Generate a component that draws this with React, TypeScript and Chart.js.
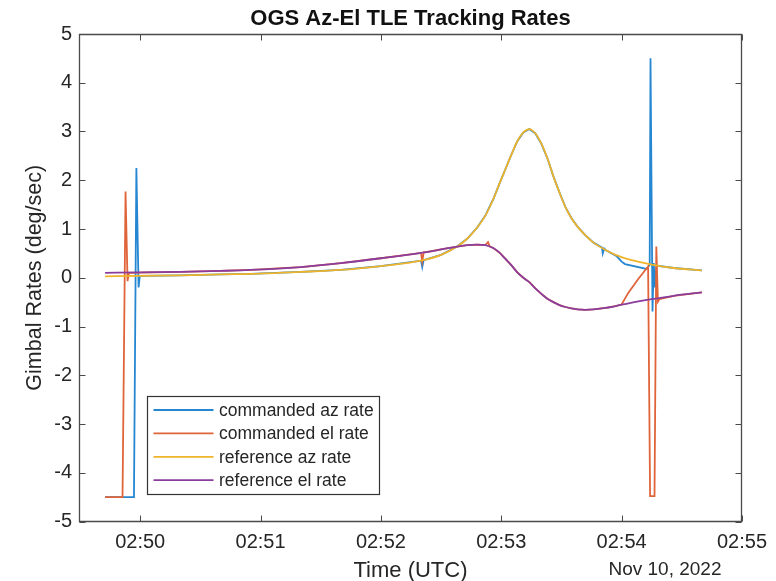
import React, { useEffect, useRef } from "react";
import { Chart, registerables } from "chart.js";

Chart.register(...registerables);

// Time axis: seconds after 02:50:00 UTC, Nov 10, 2022
const xMin = -30.5;
const xMax = 300;
const xTickSeconds = [0, 60, 120, 180, 240, 300];
const xTickLabels = ["02:50", "02:51", "02:52", "02:53", "02:54", "02:55"];
const yTickValues = [-5, -4, -3, -2, -1, 0, 1, 2, 3, 4, 5];
const dateLabel = "Nov 10, 2022";
const titleText = "OGS Az-El TLE Tracking Rates";
const xTitle = "Time (UTC)";
const yTitle = "Gimbal Rates (deg/sec)";

const seriesLabels = ["commanded az rate", "commanded el rate", "reference az rate", "reference el rate"];
const seriesColors = ["#2587d2", "#e0643a", "#efb42a", "#8a3d9c"];

// reference (TLE) rates
const refTime = [-17.5, -0.5, 20, 40, 55, 80, 100, 120, 140, 150, 158, 163, 168, 172, 176, 179, 182, 185, 188, 191, 194, 197, 200, 203, 206, 209, 212, 215, 218, 222, 226, 232, 237, 244, 255, 266, 280];
const refAzRate = [0.03, 0.04, 0.05, 0.07, 0.08, 0.12, 0.16, 0.24, 0.35, 0.47, 0.64, 0.8, 1.03, 1.27, 1.61, 1.92, 2.22, 2.52, 2.8, 2.98, 3.05, 2.96, 2.75, 2.45, 2.08, 1.75, 1.45, 1.22, 1.05, 0.87, 0.72, 0.57, 0.47, 0.37, 0.27, 0.2, 0.15];
const refElRate = [0.1, 0.11, 0.12, 0.14, 0.16, 0.22, 0.3, 0.4, 0.51, 0.58, 0.64, 0.67, 0.68, 0.67, 0.61, 0.52, 0.39, 0.26, 0.11, 0.0, -0.09, -0.22, -0.33, -0.43, -0.5, -0.56, -0.6, -0.63, -0.65, -0.66, -0.65, -0.62, -0.58, -0.52, -0.44, -0.37, -0.3];

// commanded az rate
const cmdAzTime = [-17.5, -3.1, -1.9, -0.8, -0.2, 20, 40, 55, 80, 100, 120, 140, 140.6, 141.3, 150, 158, 163, 168, 172, 176, 179, 182, 185, 188, 191, 194, 197, 200, 203, 206, 209, 212, 215, 218, 222, 226, 230.2, 230.6, 231.3, 232, 237.6, 240, 241.7, 252.4, 254, 254.4, 255.4, 256, 256.6, 257.3, 266, 280];
const cmdAzRate = [-4.5, -4.5, 2.25, -0.2, 0.04, 0.05, 0.07, 0.08, 0.12, 0.16, 0.24, 0.35, 0.22, 0.36, 0.47, 0.64, 0.8, 1.03, 1.27, 1.61, 1.92, 2.22, 2.52, 2.8, 2.98, 3.05, 2.96, 2.75, 2.45, 2.08, 1.75, 1.45, 1.22, 1.05, 0.87, 0.72, 0.62, 0.5, 0.6, 0.57, 0.44, 0.33, 0.28, 0.18, 0.27, 4.5, -0.69, 0.3, -0.2, 0.25, 0.2, 0.15];

// commanded el rate
const cmdElTime = [-17.5, -8.8, -7.3, -6.3, -5.6, 20, 40, 55, 80, 100, 120, 140, 140.6, 141.3, 150, 158, 163, 168, 172, 173.4, 174.3, 176, 179, 182, 185, 188, 191, 194, 197, 200, 203, 206, 209, 212, 215, 218, 222, 226, 232, 237, 240, 243.3, 248.2, 253.2, 254.2, 256.4, 257.3, 258.1, 258.8, 266, 280];
const cmdElRate = [-4.5, -4.5, 1.77, -0.07, 0.1, 0.12, 0.14, 0.16, 0.22, 0.3, 0.4, 0.51, 0.33, 0.515, 0.58, 0.64, 0.67, 0.68, 0.67, 0.73, 0.64, 0.61, 0.52, 0.39, 0.26, 0.11, 0.0, -0.09, -0.22, -0.33, -0.43, -0.5, -0.56, -0.6, -0.63, -0.65, -0.66, -0.65, -0.62, -0.58, -0.55, -0.31, -0.03, 0.23, -4.48, -4.48, 0.64, -0.49, -0.44, -0.37, -0.3];

const FONT = "'Liberation Sans', Arial, Helvetica, sans-serif";
const TEXT_COLOR = "#262626";
const AXIS_COLOR = "#4a4a4a";

const toPoints = (t: number[], v: number[]) => t.map((tt, i) => ({ x: tt, y: v[i] }));

const decorPlugin = {
  id: "matlabDecor",
  afterDraw(chart: any) {
    const { ctx, chartArea } = chart;
    const { left, right, top, bottom } = chartArea;
    const xs = chart.scales.x;
    const ys = chart.scales.y;
    ctx.save();
    // box
    ctx.strokeStyle = AXIS_COLOR;
    ctx.lineWidth = 1.3;
    const L = Math.round(left) + 0.5;
    const R = Math.round(right) - 0.5;
    const T = Math.round(top) + 0.5;
    const B = Math.round(bottom) - 0.5;
    ctx.beginPath();
    ctx.rect(L, T, R - L, B - T);
    ctx.stroke();
    // inward ticks
    const tl = 6;
    ctx.lineWidth = 1;
    ctx.beginPath();
    xTickSeconds.forEach((s) => {
      const px = Math.round(xs.getPixelForValue(s)) + 0.5;
      ctx.moveTo(px, B);
      ctx.lineTo(px, B - tl);
      ctx.moveTo(px, T);
      ctx.lineTo(px, T + tl);
    });
    yTickValues.forEach((v) => {
      const py = Math.round(ys.getPixelForValue(v)) + 0.5;
      ctx.moveTo(L, py);
      ctx.lineTo(L + tl, py);
      ctx.moveTo(R, py);
      ctx.lineTo(R - tl, py);
    });
    ctx.stroke();

    // date label under the axis
    ctx.fillStyle = TEXT_COLOR;
    ctx.font = `19px ${FONT}`;
    ctx.textAlign = "center";
    ctx.textBaseline = "middle";
    ctx.fillText(dateLabel, right - 77, bottom + 48);

    // legend
    const lx = left + 68;
    const ly = bottom - 125.5;
    const lw = 232;
    const lh = 98;
    ctx.fillStyle = "#ffffff";
    ctx.fillRect(lx, ly, lw, lh);
    ctx.strokeStyle = "#333333";
    ctx.lineWidth = 1.2;
    ctx.strokeRect(Math.round(lx) + 0.5, Math.round(ly) + 0.5, lw, lh);
    ctx.font = `17.5px ${FONT}`;
    ctx.textAlign = "left";
    seriesLabels.forEach((lab, i) => {
      const ry = ly + 14 + i * 23.4;
      ctx.strokeStyle = seriesColors[i];
      ctx.lineWidth = 1.8;
      ctx.beginPath();
      ctx.moveTo(lx + 6.5, ry);
      ctx.lineTo(lx + 66.5, ry);
      ctx.stroke();
      ctx.fillStyle = TEXT_COLOR;
      ctx.fillText(lab, lx + 72, ry + 1);
    });
    ctx.restore();
  },
};

export default function App() {
  const ref = useRef<HTMLCanvasElement | null>(null);
  useEffect(() => {
    if (!ref.current) return;
    const ds = (i: number, data: any[], order: number, smooth: boolean) => ({
      label: seriesLabels[i],
      data,
      borderColor: seriesColors[i],
      backgroundColor: seriesColors[i],
      borderWidth: 1.8,
      pointRadius: 0,
      cubicInterpolationMode: smooth ? "monotone" : "default",
      tension: 0,
      fill: false,
      order,
    });
    const chart = new Chart(ref.current, {
      type: "line",
      data: {
        datasets: [
          ds(0, toPoints(cmdAzTime, cmdAzRate), 3, false),
          ds(1, toPoints(cmdElTime, cmdElRate), 2, false),
          ds(2, toPoints(refTime, refAzRate), 1, true),
          ds(3, toPoints(refTime, refElRate), 0, true),
        ],
      },
      plugins: [decorPlugin],
      options: {
        animation: false,
        responsive: false,
        maintainAspectRatio: false,
        parsing: false,
        layout: { padding: { left: 0, right: 29, top: 0, bottom: 0 } },
        plugins: {
          legend: { display: false },
          tooltip: { enabled: false },
          title: {
            display: true,
            fullSize: false,
            text: titleText,
            color: "#111111",
            font: { family: FONT, size: 22, weight: "bold" },
            padding: { top: 6, bottom: 1.6 },
          },
        },
        scales: {
          x: {
            type: "linear",
            min: xMin,
            max: xMax,
            afterBuildTicks: (scale: any) => {
              scale.ticks = xTickSeconds.map((v) => ({ value: v }));
            },
            afterFit: (scale: any) => {
              scale.height = 59.5;
            },
            grid: { display: false, drawTicks: false },
            border: { display: false },
            ticks: {
              color: TEXT_COLOR,
              font: { family: FONT, size: 20 },
              padding: 9,
              maxRotation: 0,
              autoSkip: false,
              callback: (v: any) => {
                const i = xTickSeconds.indexOf(Number(v));
                return i >= 0 ? xTickLabels[i] : "";
              },
            },
            title: {
              display: true,
              text: xTitle,
              color: TEXT_COLOR,
              font: { family: FONT, size: 22 },
              padding: { top: 0, bottom: -3 },
            },
          },
          y: {
            type: "linear",
            min: -5,
            max: 5,
            afterBuildTicks: (scale: any) => {
              scale.ticks = yTickValues.map((v) => ({ value: v }));
            },
            afterFit: (scale: any) => {
              scale.width = 79;
            },
            grid: { display: false, drawTicks: false },
            border: { display: false },
            ticks: {
              color: TEXT_COLOR,
              font: { family: FONT, size: 20 },
              padding: 7,
              autoSkip: false,
            },
            title: {
              display: true,
              text: yTitle,
              color: TEXT_COLOR,
              font: { family: FONT, size: 21.5 },
              padding: { top: 22, bottom: 0 },
            },
          },
        },
      },
    });
    return () => chart.destroy();
  }, []);
  return (
    <div style={{ position: "absolute", left: 0, top: 0, width: 776, height: 581, background: "#ffffff" }}>
      <canvas ref={ref} width={776} height={581} style={{ display: "block", width: 776, height: 581 }} />
    </div>
  );
}
